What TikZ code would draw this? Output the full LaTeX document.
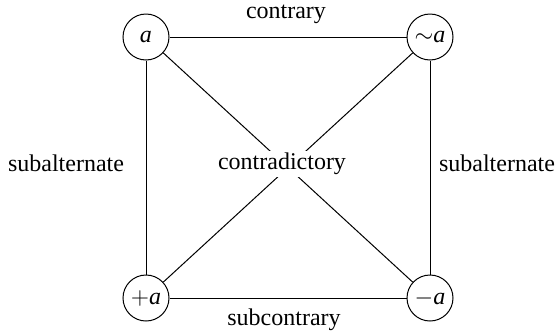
\documentclass[tikz,border=0pt]{standalone}
\usepackage{fontspec}
\setmainfont{Liberation Serif}
\usetikzlibrary{positioning}
\tikzset{
  every picture/.style={line width=0.5pt},
  term/.style={draw, circle, minimum size=23pt, inner sep=0pt, font=\fontsize{12}{14}\selectfont},
  rel/.style={font=\fontsize{12}{14}\selectfont, inner sep=1pt},
}
\begin{document}
\begin{tikzpicture}[x=0.5pt, y=-0.5pt]
  \useasboundingbox (0,0) rectangle (558,333);
  % corners of the square
  \node[term] (A) at (146,37) {\textit{a}};
  \node[term] (E) at (430,37) {$\sim$\textit{a}};
  \node[term] (I) at (146,298) {$+$\textit{a}};
  \node[term] (O) at (430,298) {$-$\textit{a}};
  \draw (A) -- (E);
  \draw (I) -- (O);
  \draw (A) -- (I);
  \draw (E) -- (O);
  \draw (A) -- (O);
  \draw (E) -- (I);
  % relation names
  \node[rel] (contrary) at (286,14) {contrary};
  \node[rel] (subcontrary) at (284,320) {subcontrary};
  \node[rel] (subaltL) at (66,163) {subalternate};
  \node[rel] (subaltR) at (497,163) {subalternate};
  \node[rel, fill=white] (contra) at (282,164) {contradictory};
\end{tikzpicture}
\end{document}
